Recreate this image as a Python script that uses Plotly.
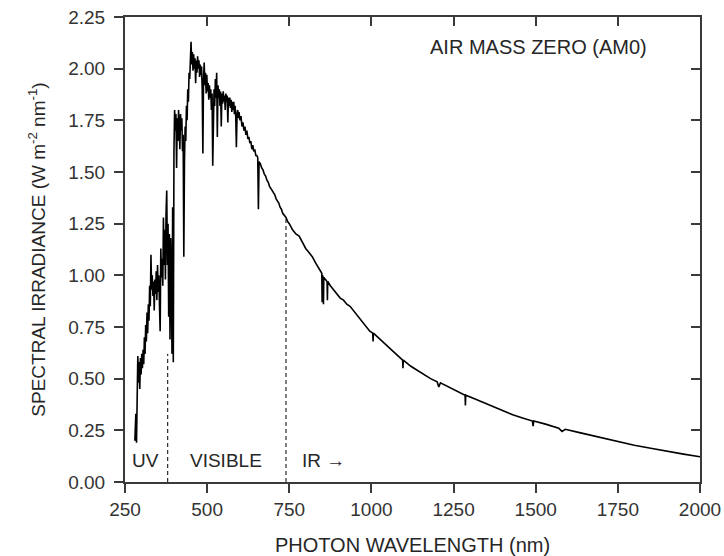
import plotly.graph_objects as go

# AM0 solar spectrum
wavelength = [
    280, 283, 285, 287, 289, 291, 293, 295, 297, 299, 301, 303, 305, 307, 309, 311,
    313, 315, 317, 319, 321, 323, 325, 327, 329, 331, 333, 335, 337, 339, 341, 343,
    345, 347, 349, 351, 353, 355, 357, 359, 361, 363, 365, 367, 369, 371, 373, 375,
    377, 379, 381, 383, 385, 387, 389, 391, 393, 395, 397, 399, 401, 403, 405, 407,
    409, 411, 413, 415, 417, 419, 421, 423, 425, 427, 429, 431, 433, 435, 437, 439,
    441, 443, 445, 447, 449, 451, 453, 455, 457, 459, 461, 463, 465, 467, 469, 471,
    473, 475, 477, 479, 481, 483, 485, 487, 489, 491, 493, 495, 497, 499, 501, 503,
    505, 507, 509, 511, 513, 515, 517, 519, 521, 523, 525, 527, 529, 531, 533, 535,
    537, 539, 541, 543, 545, 547, 549, 551, 553, 555, 557, 559, 561, 563, 565, 567,
    569, 571, 573, 575, 577, 579, 581, 583, 585, 587, 589, 591, 593, 595, 597, 600,
    603, 606, 609, 612, 615, 618, 621, 624, 627, 630, 633, 636, 639, 642, 645, 648,
    651, 654, 656, 658, 662, 666, 670, 674, 678, 682, 686, 690, 694, 698, 702, 706,
    710, 714, 718, 722, 726, 730, 735, 740, 745, 750, 760, 770, 780, 790, 800, 810,
    820, 830, 840, 849, 850, 851, 853, 854, 855, 860, 865, 866, 867, 875, 885, 895,
    905, 915, 925, 935, 945, 955, 965, 975, 985, 995, 1004, 1005, 1006, 1020, 1040, 1060,
    1080, 1095, 1096, 1097, 1120, 1150, 1180, 1200, 1205, 1210, 1240, 1270, 1285, 1286, 1287, 1310,
    1340, 1370, 1400, 1430, 1460, 1490, 1492, 1494, 1530, 1570, 1580, 1590, 1630, 1670, 1710, 1750,
    1800, 1850, 1900, 1950, 2000,
]
irradiance = [
    0.20, 0.33, 0.19, 0.35, 0.61, 0.48, 0.58, 0.45, 0.60, 0.52, 0.62, 0.55, 0.64, 0.57, 0.70, 0.62,
    0.76, 0.68, 0.82, 0.72, 0.86, 0.78, 0.95, 0.85, 1.10, 0.93, 1.00, 0.90, 0.97, 0.83, 0.98, 0.91,
    1.02, 0.88, 1.05, 0.92, 1.00, 0.85, 0.73, 1.13, 0.99, 1.08, 0.95, 1.28, 1.05, 1.22, 0.98, 1.30,
    1.41, 1.05, 1.25, 0.80, 1.20, 0.69, 1.18, 1.00, 0.62, 1.33, 0.58, 1.60, 1.80, 1.70, 1.78, 1.52,
    1.76, 1.65, 1.80, 1.72, 1.61, 1.78, 1.70, 1.76, 1.60, 1.68, 1.09, 1.55, 1.72, 1.65, 1.82, 1.75,
    1.90, 1.84, 1.98, 1.95, 2.06, 2.13, 2.02, 2.08, 1.99, 2.07, 2.00, 2.05, 1.93, 2.04, 1.98, 2.06,
    2.00, 2.04, 1.96, 2.02, 1.97, 2.01, 1.90, 1.59, 1.95, 2.03, 1.92, 1.98, 1.88, 1.97, 1.89, 1.93,
    1.85, 1.92, 1.86, 1.90, 1.80, 1.88, 1.53, 1.85, 1.90, 1.82, 1.95, 1.86, 1.98, 1.67, 1.92, 1.86,
    1.90, 1.82, 1.89, 1.72, 1.88, 1.83, 1.89, 1.84, 1.87, 1.80, 1.88, 1.84, 1.87, 1.74, 1.86, 1.82,
    1.86, 1.81, 1.85, 1.79, 1.84, 1.80, 1.84, 1.78, 1.82, 1.77, 1.62, 1.78, 1.80, 1.76, 1.79, 1.75,
    1.77, 1.72, 1.74, 1.70, 1.72, 1.68, 1.70, 1.66, 1.67, 1.64, 1.65, 1.61, 1.63, 1.60, 1.61, 1.58,
    1.58, 1.57, 1.32, 1.55, 1.54, 1.52, 1.51, 1.49, 1.48, 1.46, 1.45, 1.43, 1.42, 1.41, 1.40, 1.39,
    1.37, 1.36, 1.35, 1.33, 1.32, 1.30, 1.29, 1.28, 1.26, 1.25, 1.22, 1.20, 1.19, 1.16, 1.13, 1.11,
    1.09, 1.06, 1.03, 1.01, 0.87, 1.00, 0.99, 0.86, 0.99, 0.98, 0.97, 0.88, 0.97, 0.95, 0.93, 0.91,
    0.89, 0.88, 0.86, 0.85, 0.83, 0.81, 0.79, 0.77, 0.75, 0.73, 0.72, 0.68, 0.72, 0.70, 0.67, 0.64,
    0.61, 0.59, 0.55, 0.59, 0.56, 0.53, 0.50, 0.485, 0.46, 0.48, 0.455, 0.43, 0.42, 0.37, 0.42, 0.405,
    0.385, 0.365, 0.345, 0.325, 0.31, 0.295, 0.27, 0.295, 0.28, 0.26, 0.245, 0.255, 0.24, 0.225, 0.21, 0.195,
    0.178, 0.163, 0.148, 0.135, 0.122,
]

# region boundaries (nm) and where the dashed lines meet the curve
boundary_nm = [380, 740]
boundary_top = [0.62, 1.28]

region_labels = ["UV", "VISIBLE", "IR \u2192"]
region_label_x = [312, 557, 853]
region_label_y = 0.106

x_ticks = [250, 500, 750, 1000, 1250, 1500, 1750, 2000]
y_ticks = [0, 0.25, 0.5, 0.75, 1.0, 1.25, 1.5, 1.75, 2.0, 2.25]

font = "Liberation Sans, Arial, sans-serif"
axis_col = "#3a3a3a"
text_col = "#262626"

fig = go.Figure()
fig.add_trace(go.Scatter(x=wavelength, y=irradiance, mode="lines",
                         line=dict(color="black", width=1.6), showlegend=False,
                         hoverinfo="skip"))
# invisible traces so the extra tick-only axes are drawn
fig.add_trace(go.Scatter(x=[250], y=[0], xaxis="x2", yaxis="y2", mode="markers",
                         marker=dict(opacity=0), showlegend=False, hoverinfo="skip"))
fig.add_trace(go.Scatter(x=[250], y=[0], xaxis="x3", yaxis="y", mode="markers",
                         marker=dict(opacity=0), showlegend=False, hoverinfo="skip"))

for bx, top in zip(boundary_nm, boundary_top):
    fig.add_shape(type="line", x0=bx, x1=bx, y0=0, y1=top, xref="x", yref="y",
                  line=dict(color="black", width=1, dash="4px,3px"))

for txt, lx in zip(region_labels, region_label_x):
    fig.add_annotation(x=lx, y=region_label_y, text=txt, showarrow=False,
                       font=dict(family=font, size=19, color=text_col))

fig.add_annotation(x=0.911, y=0.935, xref="paper", yref="paper", xanchor="right",
                   yanchor="middle", text="AIR MASS ZERO (AM0)", showarrow=False,
                   font=dict(family=font, size=20, color=text_col))

common = dict(showline=True, linecolor=axis_col, linewidth=2, ticklen=9, tickwidth=2,
              tickcolor=axis_col, showgrid=False, zeroline=False, automargin=False,
              ticklabeloverflow="allow")

fig.update_layout(
    width=724, height=556,
    margin=dict(l=125, r=24, t=17, b=74),
    paper_bgcolor="white", plot_bgcolor="white",
    font=dict(family=font, size=19, color="#333"),
    # bottom axis carries labels only; its outward ticks come from xaxis3
    xaxis=dict(range=[250, 2000], tickvals=x_ticks, ticks="",
               ticktext=[str(v) for v in x_ticks], ticklabelstandoff=9,
               title=dict(text="PHOTON WAVELENGTH (nm)", font=dict(size=20, color=text_col),
                          standoff=19),
               **common),
    xaxis3=dict(range=[250, 2000], tickvals=x_ticks, ticks="outside", side="bottom",
                overlaying="x", showticklabels=False, **common),
    yaxis=dict(range=[0, 2.25], tickvals=y_ticks, ticks="outside",
               ticktext=["%.2f" % v for v in y_ticks], ticklabelstandoff=5,
               title=dict(text="SPECTRAL IRRADIANCE (W m<sup>-2</sup> nm<sup>-1</sup>)",
                          font=dict(size=19, color=text_col), standoff=18),
               **common),
    xaxis2=dict(range=[250, 2000], tickvals=x_ticks, ticks="inside", side="top",
                overlaying="x", showticklabels=False, **common),
    yaxis2=dict(range=[0, 2.25], tickvals=y_ticks, ticks="inside", side="right",
                overlaying="y", showticklabels=False, **common),
)

# drop the page's default body margin so the figure sits at the window corner
fig.write_html("out.html", config={"displayModeBar": False},
               post_script="document.body.style.margin='0';"
                           "document.body.style.overflow='hidden';")
